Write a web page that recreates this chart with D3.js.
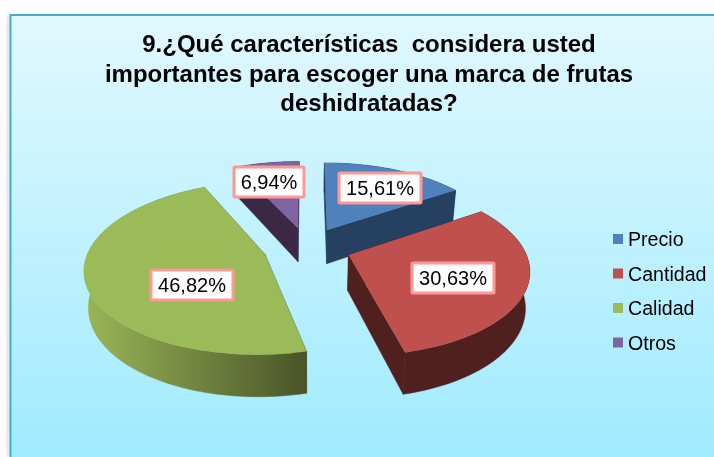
<!DOCTYPE html>
<html><head><meta charset="utf-8">
<script src="https://cdn.jsdelivr.net/npm/d3@7"></script>
<style>html,body{margin:0;padding:0;background:#fff}svg{display:block;filter:blur(.35px)}text{font-family:"Liberation Sans",Arial,sans-serif;fill:#000;white-space:pre}</style>
</head><body><svg id="c" width="714" height="457"></svg>
<script>
const titleLines = ["9.¿Qué características  considera usted","importantes para escoger una marca de frutas","deshidratadas?"];
const categories = ["Precio","Cantidad","Calidad","Otros"];
const values = [15.61,30.63,46.82,6.94];
const labels = ["15,61%","30,63%","46,82%","6,94%"];
const topColors = ["#4f81bd","#c0504d","#9bbb59","#8064a2"];
const wallColors = ["#254061","#4f201d","#4f5a28","#3a2845"];
const labelCenters = [[380,188],[453,278],[192,285],[269,182]];
const drawOrder = [3,0,2,1];

// projection of the tilted, exploded pie
const X0=307, Y0=247.5, RX=175.5, RZ=82.4, K=0.155, EXPLODE=0.25, DEPTH=35, BOTTOM_SHRINK=0.98;
const project=(x,z,bottom)=>{
  const p=1/(1-K*z);
  const sx=bottom?BOTTOM_SHRINK:1;
  return [X0+RX*x*p*sx, Y0+(RZ*z+(bottom?DEPTH:0))*p];
};
const svg=d3.select("#c");
const defs=svg.append("defs");
const bg=defs.append("linearGradient").attr("id","bg").attr("x1",0).attr("y1",0).attr("x2",0).attr("y2",1);
bg.append("stop").attr("offset",0).attr("stop-color","#e1f8ff");
bg.append("stop").attr("offset",1).attr("stop-color","#9deaff");
const gw=defs.append("linearGradient").attr("id","greenWall").attr("gradientUnits","userSpaceOnUse").attr("x1",85).attr("x2",306).attr("y1",0).attr("y2",0);
gw.append("stop").attr("offset",0).attr("stop-color","#9ab658");
gw.append("stop").attr("offset",1).attr("stop-color","#4a5428");
defs.append("filter").attr("id","sh").attr("x","-5%").attr("width","110%").append("feGaussianBlur").attr("stdDeviation",2);

svg.append("rect").attr("x",7).attr("y",15).attr("width",3).attr("height",442).attr("fill","#999").attr("opacity",.45).attr("filter","url(#sh)");
svg.append("rect").attr("x",10.5).attr("y",15).attr("width",720).attr("height",460).attr("fill","url(#bg)").attr("stroke","#44aecb").attr("stroke-width",2);

svg.append("g").selectAll("text").data(titleLines).join("text")
  .attr("x",369).attr("y",(d,i)=>52+i*29.5).attr("text-anchor","middle")
  .attr("font-size",24).attr("font-weight","bold").text(d=>d);

const pie=d3.pie().sort(null).value(d=>d).startAngle(0).endAngle(2*Math.PI);
const arcs=pie(values);
const line=d3.line();
const g=svg.append("g");
drawOrder.forEach(i=>{
  const a=arcs[i], mid=(a.startAngle+a.endAngle)/2;
  const ex=EXPLODE*Math.sin(mid), ez=-EXPLODE*Math.cos(mid);
  const n=Math.max(8,Math.round((a.endAngle-a.startAngle)*40));
  const angles=d3.range(n+1).map(j=>a.startAngle+(a.endAngle-a.startAngle)*j/n);
  const rim=b=>angles.map(t=>project(ex+Math.sin(t),ez-Math.cos(t),b));
  const apexT=project(ex,ez,false), apexB=project(ex,ez,true);
  const rimT=rim(false), rimB=rim(true);
  const wall=i===2?"url(#greenWall)":wallColors[i];
  // radial walls
  [[rimT[0],rimB[0]],[rimT[n],rimB[n]]].forEach(([t,b])=>{
    g.append("path").attr("d",line([apexT,t,b,apexB])+"Z").attr("fill",wall).attr("stroke",wall).attr("stroke-width",.5);
  });
  // outer wall
  g.append("path").attr("d",line(rimT.concat(rimB.slice().reverse()))+"Z").attr("fill",wall).attr("stroke",wall).attr("stroke-width",.5);
  // top face
  g.append("path").attr("d",line([apexT].concat(rimT))+"Z").attr("fill",topColors[i]);
});

const lg=svg.append("g").selectAll("g").data(labels).join("g")
  .attr("transform",(d,i)=>`translate(${labelCenters[i][0]},${labelCenters[i][1]})`);
lg.append("rect").attr("x",(d,i)=>i===3?-35:-41).attr("width",(d,i)=>i===3?70:82).attr("y",-15).attr("height",30)
  .attr("fill","#fff").attr("stroke","#ff9797").attr("stroke-width",3).attr("rx",1);
lg.append("text").attr("text-anchor","middle").attr("y",7).attr("font-size",20).text(d=>d);

const leg=svg.append("g").selectAll("g").data(categories).join("g")
  .attr("transform",(d,i)=>`translate(613,${239+i*34.5})`);
leg.append("rect").attr("x",0).attr("y",-5).attr("width",10).attr("height",10).attr("fill",(d,i)=>topColors[i]);
leg.append("text").attr("x",15).attr("y",7).attr("font-size",19.6).text(d=>d);
</script></body></html>
